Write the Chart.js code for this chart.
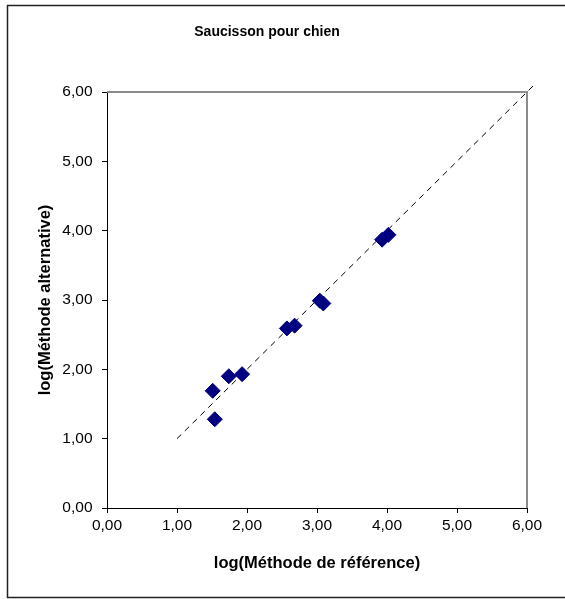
<!DOCTYPE html>
<html>
<head>
<meta charset="utf-8">
<script src="https://cdn.jsdelivr.net/npm/chart.js@4/dist/chart.umd.min.js"></script>
<style>
html,body{margin:0;padding:0;background:#fff;}
canvas{display:block;}
</style>
</head>
<body>
<canvas id="c" width="565" height="599"></canvas>
<script>
const chartTitle = "Saucisson pour chien";
const xTitle = "log(Méthode de référence)";
const yTitle = "log(Méthode alternative)";
const tickLabels = ["0,00", "1,00", "2,00", "3,00", "4,00", "5,00", "6,00"];
const refX = [1.51, 1.54, 1.74, 1.93, 2.57, 2.68, 3.04, 3.09, 3.93, 4.02];
const altY = [1.69, 1.28, 1.90, 1.93, 2.59, 2.63, 2.99, 2.95, 3.87, 3.94];
const lineX = [1, 6.1];
const lineY = [1, 6.1];

const FONT = "'Liberation Sans', Arial, sans-serif";

const frame = {
  id: 'frame',
  beforeDraw(chart) {
    const ctx = chart.ctx;
    ctx.save();
    ctx.fillStyle = '#fff';
    ctx.fillRect(0, 0, chart.width, chart.height);
    ctx.strokeStyle = '#222';
    ctx.lineWidth = 1.5;
    ctx.strokeRect(7.5, 5.5, 565, 592);
    ctx.restore();
  },
  beforeDatasetsDraw(chart) {
    const a = chart.chartArea;
    const ctx = chart.ctx;
    ctx.save();
    ctx.strokeStyle = '#8c8c8c';
    ctx.lineWidth = 2;
    ctx.beginPath();
    ctx.moveTo(a.left, a.top);
    ctx.lineTo(a.right, a.top);
    ctx.lineTo(a.right, a.bottom);
    ctx.stroke();
    ctx.restore();
  }
};

new Chart(document.getElementById('c'), {
  type: 'scatter',
  data: {
    datasets: [
      {
        type: 'line',
        data: lineX.map((x, i) => ({x, y: lineY[i]})),
        borderColor: '#000',
        borderWidth: 1,
        borderDash: [6, 5],
        pointRadius: 0,
        fill: false,
        clip: false,
        order: 2
      },
      {
        data: refX.map((x, i) => ({x, y: altY[i]})),
        pointStyle: 'rectRot',
        pointRadius: 7.5,
        pointHoverRadius: 7.5,
        backgroundColor: '#000080',
        borderColor: '#000080',
        borderWidth: 1,
        order: 1
      }
    ]
  },
  plugins: [frame],
  options: {
    responsive: false,
    devicePixelRatio: 1,
    animation: false,
    layout: { padding: { left: 7, right: 38, top: 0, bottom: 0 } },
    plugins: {
      legend: { display: false },
      tooltip: { enabled: false },
      title: {
        display: true,
        text: chartTitle,
        color: '#000',
        font: { family: FONT, size: 14, weight: 'bold' },
        padding: { top: 23.6, bottom: 51.6 }
      }
    },
    scales: {
      x: {
        type: 'linear',
        min: 0, max: 6,
        afterFit(s) { s.height = 91; },
        ticks: {
          stepSize: 1,
          color: '#000',
          padding: 3,
          maxRotation: 0,
          font: { family: FONT, size: 15.5 },
          callback: (v) => tickLabels[Math.round(v)]
        },
        grid: { drawOnChartArea: false, drawTicks: true, tickLength: 5, tickColor: '#000' },
        border: { display: true, color: '#000', width: 1 },
        title: {
          display: true,
          text: xTitle,
          color: '#000',
          font: { family: FONT, size: 16.5, weight: 'bold' },
          padding: { top: 0, bottom: 25.6 }
        }
      },
      y: {
        type: 'linear',
        min: 0, max: 6,
        afterFit(s) { s.width = 100; },
        ticks: {
          stepSize: 1,
          color: '#000',
          padding: 9.5,
          font: { family: FONT, size: 15.5 },
          callback: (v) => tickLabels[Math.round(v)]
        },
        grid: { drawOnChartArea: false, drawTicks: true, tickLength: 5, tickColor: '#000' },
        border: { display: true, color: '#000', width: 1 },
        title: {
          display: true,
          text: yTitle,
          color: '#000',
          font: { family: FONT, size: 16.5, weight: 'bold' },
          padding: { top: 28.1, bottom: 0 }
        }
      }
    }
  }
});
</script>
</body>
</html>
